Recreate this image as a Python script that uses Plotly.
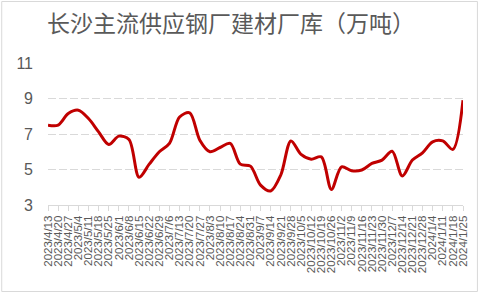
import plotly.graph_objects as go

dates = ["2023/4/13", "2023/4/20", "2023/4/27", "2023/5/4", "2023/5/11", "2023/5/18",
         "2023/5/25", "2023/6/1", "2023/6/8", "2023/6/15", "2023/6/22", "2023/6/29",
         "2023/7/6", "2023/7/13", "2023/7/20", "2023/7/27", "2023/8/3", "2023/8/10",
         "2023/8/17", "2023/8/24", "2023/8/31", "2023/9/7", "2023/9/14", "2023/9/21",
         "2023/9/28", "2023/10/5", "2023/10/12", "2023/10/19", "2023/10/26", "2023/11/2",
         "2023/11/9", "2023/11/16", "2023/11/23", "2023/11/30", "2023/12/7", "2023/12/14",
         "2023/12/21", "2023/12/28", "2024/1/4", "2024/1/11", "2024/1/18", "2024/1/25"]

inventory = [7.5, 7.5, 8.15, 8.34, 7.87, 7.12, 6.41, 6.88, 6.69, 4.56, 5.3, 6.0,
             6.47, 7.96, 8.19, 6.65, 6.0, 6.24, 6.47, 5.3, 5.19, 4.12, 3.79, 4.69,
             6.61, 5.85, 5.58, 5.71, 3.88, 5.15, 4.93, 4.97, 5.34, 5.53, 6.03, 4.63,
             5.53, 5.94, 6.56, 6.61, 6.13, 8.9]

y_ticks = [3, 5, 7, 9, 11]

W, H = 481, 293
ML, MR, MT, MB = 48, 16, 63, 88

fig = go.Figure()
fig.add_trace(go.Scatter(
    x=dates, y=inventory, mode="lines",
    line=dict(color="#C00000", width=3, shape="spline", smoothing=0.9),
    hoverinfo="skip", showlegend=False,
))

fig.update_layout(
    width=W, height=H,
    margin=dict(l=ML, r=MR, t=MT, b=MB, pad=0),
    paper_bgcolor="white", plot_bgcolor="white",
    font=dict(family="Liberation Sans, Arial, sans-serif", color="#595959"),
    title=dict(
        text="长沙主流供应钢厂建材厂库（万吨）",
        font=dict(family="Noto Sans CJK SC", size=23, color="#595959"),
        x=231 / W, xanchor="center", y=1 - 24 / H, yanchor="middle",
    ),
    xaxis=dict(
        type="category", range=[0, len(dates) - 1],
        tickmode="array", tickvals=dates, ticktext=dates,
        tickangle=-90, tickfont=dict(size=11.5, color="#595959"),
        showgrid=False, showline=True, linecolor="#D9D9D9", linewidth=1,
        ticks="outside", ticklen=5, tickcolor="#D9D9D9", tickwidth=1,
        zeroline=False,
    ),
    yaxis=dict(
        range=[3, 11], tickvals=y_ticks,
        tickfont=dict(size=16, color="#595959"),
        showgrid=True, gridcolor="#D9D9D9", gridwidth=1, griddash="8px,3px",
        showline=False, zeroline=False, ticks="", ticklabelstandoff=14,
    ),
    shapes=[dict(
        type="rect", xref="paper", yref="paper",
        x0=(-ML + 1.5) / (W - ML - MR), x1=1 + (MR - 1.5) / (W - ML - MR),
        y0=(-MB + 1.5) / (H - MT - MB), y1=1 + (MT - 1.5) / (H - MT - MB),
        line=dict(color="#D9D9D9", width=1), fillcolor="rgba(0,0,0,0)", layer="below",
    )],
)

fig.write_html("out.html")
